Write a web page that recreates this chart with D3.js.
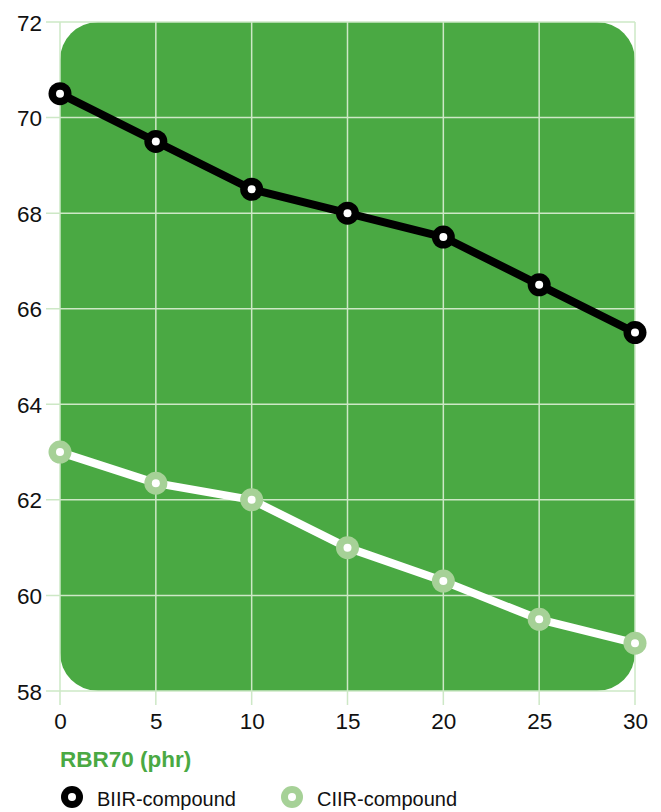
<!DOCTYPE html>
<html>
<head>
<meta charset="utf-8">
<script src="https://cdn.jsdelivr.net/npm/d3@7"></script>
<style>
  body { margin: 0; background: #fff; }
  svg { display: block; font-family: "Liberation Sans", Arial, sans-serif; }
</style>
</head>
<body>
<div id="chart"></div>
<script>
const phr = [0, 5, 10, 15, 20, 25, 30];
const biir = [70.5, 69.5, 68.5, 68.0, 67.5, 66.5, 65.5];
const ciir = [63.0, 62.35, 62.0, 61.0, 60.3, 59.5, 59.0];
const yTicks = [58, 60, 62, 64, 66, 68, 70, 72];
const seriesNames = ["BIIR-compound", "CIIR-compound"];

const width = 661, height = 812;
const margin = { top: 22, right: 26, bottom: 121, left: 60 };
const innerW = width - margin.left - margin.right;
const innerH = height - margin.top - margin.bottom;

const green = "#4aa943";
const gridColor = "#cde8c6";
const lightGreen = "#a6d197";

const svg = d3.select("#chart").append("svg")
  .attr("width", width)
  .attr("height", height);

const g = svg.append("g")
  .attr("transform", `translate(${margin.left},${margin.top})`);

const x = d3.scaleLinear().domain([0, 30]).range([0, innerW]);
const y = d3.scaleLinear().domain([58, 72]).range([innerH, 0]);

// green panel
g.append("rect")
  .attr("x", 0).attr("y", 0)
  .attr("width", innerW).attr("height", innerH)
  .attr("rx", 38).attr("ry", 38)
  .attr("fill", green);

// grid lines
g.selectAll(".hgrid").data(yTicks).enter().append("line")
  .attr("class", "hgrid")
  .attr("x1", -14).attr("x2", innerW)
  .attr("y1", d => y(d)).attr("y2", d => y(d))
  .attr("stroke", gridColor).attr("stroke-width", 1.5);

g.selectAll(".vgrid").data(phr).enter().append("line")
  .attr("class", "vgrid")
  .attr("x1", d => x(d)).attr("x2", d => x(d))
  .attr("y1", 0).attr("y2", innerH + 14)
  .attr("stroke", gridColor).attr("stroke-width", 1.5);

// axes labels
const yAxis = d3.axisLeft(y).tickValues(yTicks).tickSize(0).tickPadding(18);
g.append("g").call(yAxis)
  .call(a => a.select(".domain").remove())
  .selectAll("text")
  .attr("fill", "#111")
  .style("font-size", "22.5px")
  .attr("dy", "0.36em");

const xAxis = d3.axisBottom(x).tickValues(phr).tickSize(0).tickPadding(22);
g.append("g").attr("transform", `translate(0,${innerH})`).call(xAxis)
  .call(a => a.select(".domain").remove())
  .selectAll("text")
  .attr("fill", "#111")
  .style("font-size", "22.5px");

g.append("text")
  .attr("x", 0).attr("y", innerH + 76)
  .attr("fill", green)
  .style("font-size", "22.5px")
  .style("font-weight", "bold")
  .text("RBR70 (phr)");

// lines
const line = d3.line().x((d, i) => x(phr[i])).y(d => y(d));

function drawSeries(vals, lineColor, markColor) {
  g.append("path")
    .datum(vals)
    .attr("d", line)
    .attr("fill", "none")
    .attr("stroke", lineColor)
    .attr("stroke-width", 8)
    .attr("stroke-linejoin", "round");

  const pts = g.append("g").selectAll("g").data(vals).enter().append("g")
    .attr("transform", (d, i) => `translate(${x(phr[i])},${y(d)})`);
  pts.append("circle").attr("r", 11.5).attr("fill", markColor);
  pts.append("circle").attr("r", 4).attr("fill", "#fff");
}

drawSeries(ciir, "#fff", lightGreen);
drawSeries(biir, "#000", "#000");

// legend
const legend = svg.append("g").attr("transform", "translate(0,797)");
const legendItems = [
  { name: seriesNames[0], color: "#000", x: 72 },
  { name: seriesNames[1], color: lightGreen, x: 292 }
];
const li = legend.selectAll("g").data(legendItems).enter().append("g")
  .attr("transform", d => `translate(${d.x},0)`);
li.append("circle").attr("r", 11).attr("fill", d => d.color);
li.append("circle").attr("r", 4).attr("fill", "#fff");
li.append("text")
  .attr("x", 25).attr("y", 9)
  .attr("fill", "#111")
  .style("font-size", "20px")
  .text(d => d.name);
</script>
</body>
</html>
